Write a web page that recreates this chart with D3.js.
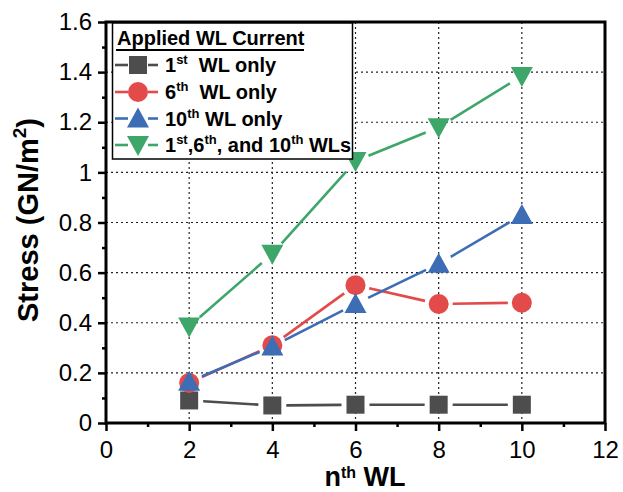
<!DOCTYPE html>
<html><head><meta charset="utf-8">
<script src="https://cdn.jsdelivr.net/npm/d3@7"></script>
<style>body{margin:0;background:#fff}svg{display:block}</style>
</head><body>
<svg id="c" width="623" height="492"></svg>
<script>
const xValues = [2, 4, 6, 8, 10];
const wl1Only = [0.09, 0.07, 0.073, 0.073, 0.073];
const wl6Only = [0.16, 0.31, 0.55, 0.475, 0.48];
const wl10Only = [0.165, 0.305, 0.475, 0.635, 0.83];
const wlAll = [0.385, 0.675, 1.045, 1.18, 1.385];
const xTicks = [0, 2, 4, 6, 8, 10, 12];
const yTicks = [0, 0.2, 0.4, 0.6, 0.8, 1, 1.2, 1.4, 1.6];

const series = [
  {name: "1st", values: wl1Only, color: "#4d4d4d", shape: "square"},
  {name: "6th", values: wl6Only, color: "#e34a4a", shape: "circle"},
  {name: "10th", values: wl10Only, color: "#3d6db5", shape: "up"},
  {name: "all", values: wlAll, color: "#3fa66a", shape: "down"}
];

const svg = d3.select("#c");
const L = 106, R = 605, T = 22, B = 423;
const x = d3.scaleLinear().domain([0, 12]).range([L, R]);
const y = d3.scaleLinear().domain([0, 1.6]).range([B, T]);
const font = "'Liberation Sans', Arial, sans-serif";

// grid
const g = svg.append("g");
g.selectAll(".gx").data(xTicks.filter(t => t > 0 && t < 12)).join("line")
  .attr("x1", d => x(d)).attr("x2", d => x(d)).attr("y1", T).attr("y2", B)
  .attr("stroke", "#222").attr("stroke-width", 1.2).attr("stroke-dasharray", "2,3");
g.selectAll(".gy").data(yTicks.filter(t => t > 0 && t < 1.6)).join("line")
  .attr("y1", d => y(d)).attr("y2", d => y(d)).attr("x1", L).attr("x2", R)
  .attr("stroke", "#222").attr("stroke-width", 1.2).attr("stroke-dasharray", "2,3");

// frame
svg.append("rect").attr("x", L).attr("y", T).attr("width", R - L).attr("height", B - T)
  .attr("fill", "none").attr("stroke", "#000").attr("stroke-width", 3);

// axes
const xAxis = svg.append("g").attr("transform", `translate(0,${B})`)
  .call(d3.axisBottom(x).tickValues(xTicks).tickFormat(d3.format("d")).tickSize(8).tickPadding(5));
const xMinor = svg.append("g").attr("transform", `translate(0,${B})`)
  .call(d3.axisBottom(x).tickValues(d3.range(1, 12, 2)).tickFormat("").tickSize(4));
const yAxis = svg.append("g").attr("transform", `translate(${L},0)`)
  .call(d3.axisLeft(y).tickValues(yTicks).tickFormat(d => d === 0 ? "0" : d === 1 ? "1" : d3.format(".1f")(d)).tickSize(8).tickPadding(6));
const yMinor = svg.append("g").attr("transform", `translate(${L},0)`)
  .call(d3.axisLeft(y).tickValues(d3.range(0.1, 1.6, 0.2)).tickFormat("").tickSize(4));
[xAxis, xMinor, yAxis, yMinor].forEach(a => {
  a.select(".domain").remove();
  a.selectAll("line").attr("stroke", "#000").attr("stroke-width", 2.5);
  a.selectAll("text").attr("font-family", font).attr("font-size", 24).attr("fill", "#000");
});
xAxis.selectAll("text").attr("y", 35).attr("dy", 0);

// axis titles
const xt = svg.append("text").attr("x", 365).attr("y", 486).attr("text-anchor", "middle")
  .attr("font-family", font).attr("font-weight", "bold").attr("font-size", 27);
xt.append("tspan").text("n");
xt.append("tspan").attr("font-size", 16).attr("dy", -8).text("th");
xt.append("tspan").attr("dy", 8).text(" WL");

const yt = svg.append("text").attr("transform", `translate(38,220) rotate(-90)`)
  .attr("text-anchor", "middle").attr("font-family", font).attr("font-weight", "bold").attr("font-size", 29);
yt.append("tspan").text("Stress (GN/m");
yt.append("tspan").attr("font-size", 19).attr("dy", -12).text("2");
yt.append("tspan").attr("dy", 12).text(")");

// marker drawing
function marker(sel, shape, color, cx, cy) {
  if (shape === "square") {
    sel.append("rect").attr("x", cx - 9).attr("y", cy - 9).attr("width", 18).attr("height", 18).attr("fill", color);
  } else if (shape === "circle") {
    sel.append("circle").attr("cx", cx).attr("cy", cy).attr("r", 10).attr("fill", color);
  } else if (shape === "up") {
    sel.append("path").attr("d", `M${cx},${cy - 11}L${cx + 11},${cy + 9}L${cx - 11},${cy + 9}Z`).attr("fill", color);
  } else {
    sel.append("path").attr("d", `M${cx - 11},${cy - 9}L${cx + 11},${cy - 9}L${cx},${cy + 11}Z`).attr("fill", color);
  }
}

const gap = 14;
series.forEach(s => {
  const pts = xValues.map((xv, i) => [x(xv), y(s.values[i])]);
  const lg = svg.append("g");
  for (let i = 0; i < pts.length - 1; i++) {
    const [x1, y1] = pts[i], [x2, y2] = pts[i + 1];
    const dx = x2 - x1, dy = y2 - y1, len = Math.hypot(dx, dy);
    if (len <= 2 * gap) continue;
    const ux = dx / len, uy = dy / len;
    lg.append("line").attr("x1", x1 + ux * gap).attr("y1", y1 + uy * gap)
      .attr("x2", x2 - ux * gap).attr("y2", y2 - uy * gap)
      .attr("stroke", s.color).attr("stroke-width", 2.6);
  }
});
series.forEach(s => {
  const mg = svg.append("g");
  xValues.forEach((xv, i) => marker(mg, s.shape, s.color, x(xv), y(s.values[i])));
});

// legend
const lgd = svg.append("g");
lgd.append("rect").attr("x", 112.5).attr("y", 23).attr("width", 240).attr("height", 136)
  .attr("fill", "#fff").attr("stroke", "#000").attr("stroke-width", 1.5);
lgd.append("text").attr("x", 117).attr("y", 45).attr("font-family", font).attr("font-weight", "bold")
  .attr("font-size", 20).text("Applied WL Current");
lgd.append("line").attr("x1", 116).attr("x2", 304).attr("y1", 50).attr("y2", 50).attr("stroke", "#000").attr("stroke-width", 2.2);
const labels = [
  [["1", ""], ["st", "sup"], ["  WL only", ""]],
  [["6", ""], ["th", "sup"], ["  WL only", ""]],
  [["10", ""], ["th", "sup"], [" WL only", ""]],
  [["1", ""], ["st", "sup"], [",6", ""], ["th", "sup"], [", and 10", ""], ["th", "sup"], [" WLs", ""]]
];
const rowY = [72, 99, 125.5, 152];
series.forEach((s, i) => {
  const cy = rowY[i] - 7;
  lgd.append("line").attr("x1", 115).attr("x2", 128).attr("y1", cy).attr("y2", cy).attr("stroke", s.color).attr("stroke-width", 2.6);
  lgd.append("line").attr("x1", 148).attr("x2", 158).attr("y1", cy).attr("y2", cy).attr("stroke", s.color).attr("stroke-width", 2.6);
  marker(lgd, s.shape, s.color, 138, cy);
  const t = lgd.append("text").attr("x", 165).attr("y", rowY[i]).attr("font-family", font)
    .attr("font-weight", "bold").attr("font-size", 20).attr("xml:space", "preserve");
  let raised = false;
  labels[i].forEach(([txt, kind]) => {
    const sp = t.append("tspan").text(txt);
    if (kind === "sup") { sp.attr("font-size", 13); if (!raised) { sp.attr("dy", -8); raised = true; } }
    else if (raised) { sp.attr("dy", 8); raised = false; }
  });
});
</script>
</body></html>
